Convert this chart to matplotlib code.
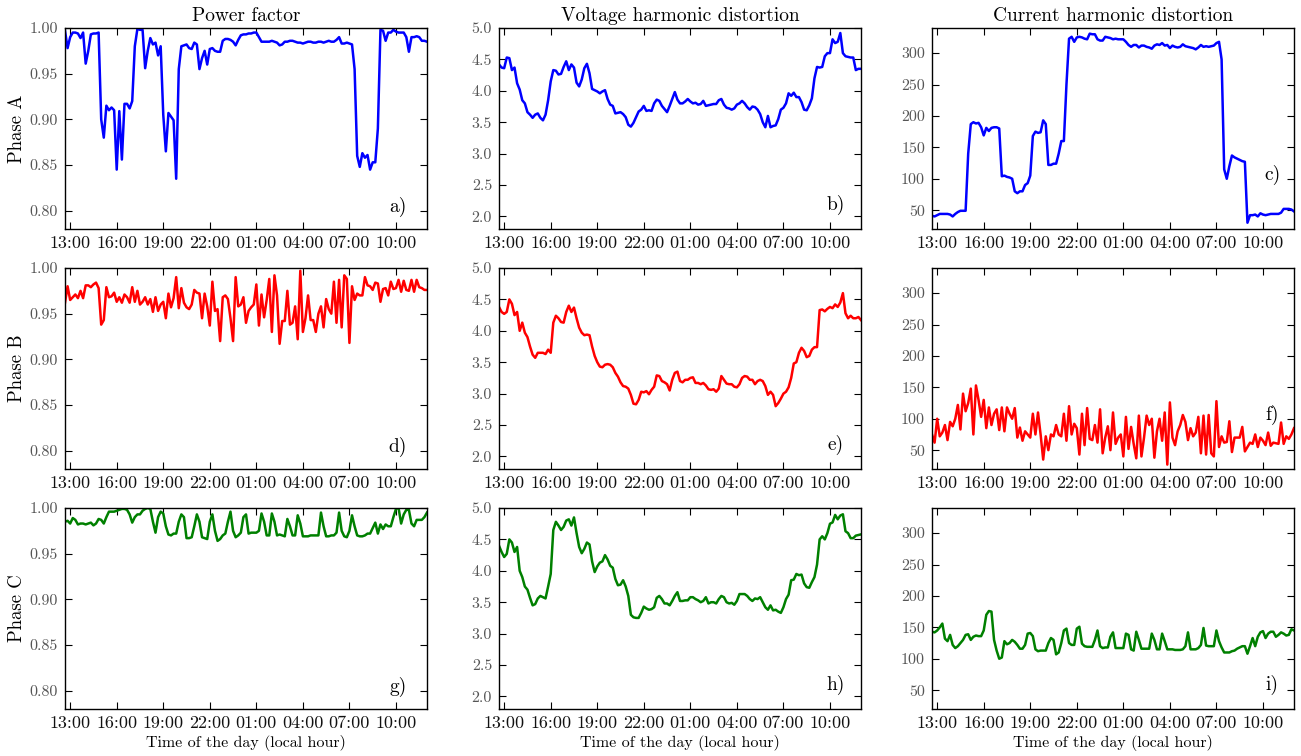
import numpy as np
import matplotlib
matplotlib.use("Agg")
import matplotlib.pyplot as plt
from matplotlib.ticker import FixedLocator, FormatStrFormatter

# ---------------- data (10-minute samples, 12:40 -> 12:00 next day) ----------------
start_hour = 12 + 40 / 60.0
n_samples = 141
step_hours = 1 / 6.0

tick_hours = [13, 16, 19, 22, 25, 28, 31, 34]
tick_labels = ["13:00", "16:00", "19:00", "22:00", "01:00", "04:00", "07:00", "10:00"]

col_titles = ["Power factor", "Voltage harmonic distortion", "Current harmonic distortion"]
row_labels = ["Phase A", "Phase B", "Phase C"]
panel_tags = ["a)", "b)", "c)", "d)", "e)", "f)", "g)", "h)", "i)"]
phase_colors = ["#0000ff", "#ff0000", "#008000"]

pf_a = [0.997, 0.978,
        0.990, 0.995, 0.995, 0.994, 0.989, 0.995,
        0.961, 0.975, 0.993, 0.994, 0.994, 0.995,
        0.900, 0.880, 0.915, 0.910, 0.913, 0.910,
        0.845, 0.909, 0.856, 0.917, 0.917, 0.912,
        0.920, 0.980, 0.999, 0.998, 0.998, 0.956,
        0.975, 0.989, 0.982, 0.984, 0.970, 0.980,
        0.905, 0.865, 0.907, 0.903, 0.899, 0.835,
        0.955, 0.980, 0.981, 0.982, 0.978, 0.977,
        0.984, 0.982, 0.955, 0.967, 0.975, 0.960,
        0.977, 0.978, 0.975, 0.974, 0.974, 0.986,
        0.988, 0.988, 0.987, 0.985, 0.981, 0.987,
        0.992, 0.993, 0.993, 0.994, 0.994, 0.995,
        0.995, 0.990, 0.985, 0.985, 0.985, 0.985,
        0.986, 0.985, 0.984, 0.981, 0.982, 0.985,
        0.985, 0.986, 0.986, 0.985, 0.984, 0.984,
        0.983, 0.984, 0.985, 0.985, 0.984, 0.984,
        0.985, 0.985, 0.984, 0.985, 0.986, 0.985,
        0.985, 0.987, 0.990, 0.983, 0.983, 0.984,
        0.983, 0.982, 0.955, 0.860, 0.848, 0.863,
        0.858, 0.861, 0.845, 0.853, 0.853, 0.890,
        0.998, 0.997, 0.986, 0.995, 0.995, 0.998,
        0.996, 0.995, 0.995, 0.995, 0.990, 0.974,
        0.990, 0.990, 0.991, 0.990, 0.986, 0.986,
        0.985]

thd_v_a = [4.42, 4.37,
           4.36, 4.53, 4.52, 4.33, 4.37, 4.12,
           4.02, 3.85, 3.80, 3.66, 3.62, 3.57,
           3.62, 3.64, 3.57, 3.53, 3.62, 3.85,
           4.15, 4.33, 4.32, 4.26, 4.27, 4.38,
           4.47, 4.33, 4.42, 4.37, 4.13, 4.07,
           4.18, 4.36, 4.43, 4.28, 4.03, 4.01,
           3.99, 3.96, 3.99, 4.01, 3.87, 3.78,
           3.76, 3.64, 3.65, 3.66, 3.63, 3.58,
           3.46, 3.43, 3.49, 3.58, 3.67, 3.70,
           3.76, 3.68, 3.69, 3.68, 3.80, 3.86,
           3.84, 3.76, 3.71, 3.66, 3.76, 3.87,
           3.98, 3.86, 3.80, 3.80, 3.83, 3.87,
           3.83, 3.80, 3.81, 3.78, 3.79, 3.84,
           3.76, 3.77, 3.78, 3.79, 3.79, 3.85,
           3.87, 3.78, 3.73, 3.72, 3.70, 3.72,
           3.78, 3.80, 3.84, 3.80, 3.74, 3.70,
           3.75, 3.74, 3.70, 3.63, 3.50, 3.42,
           3.60, 3.42, 3.44, 3.45, 3.55, 3.70,
           3.73, 3.80, 3.96, 3.92, 3.97, 3.90,
           3.90, 3.82, 3.70, 3.69, 3.77, 3.88,
           4.20, 4.38, 4.37, 4.38, 4.55, 4.60,
           4.60, 4.82, 4.76, 4.78, 4.92, 4.60,
           4.55, 4.54, 4.53, 4.53, 4.33, 4.35,
           4.35]

thd_i_a = [41, 40,
           42, 44, 44, 44, 44, 43,
           40, 44, 47, 49, 49, 49,
           140, 187, 190, 188, 189, 182,
           169, 181, 176, 181, 182, 182,
           180, 104, 105, 103, 102, 100,
           80, 77, 80, 80, 90, 93,
           105, 168, 175, 173, 174, 193,
           187, 122, 122, 124, 124, 140,
           160, 160, 250, 323, 326, 318,
           325, 326, 325, 323, 322, 331,
           330, 330, 322, 320, 320, 326,
           325, 324, 322, 323, 322, 322,
           322, 318, 313, 310, 313, 313,
           309, 312, 312, 310, 309, 307,
           312, 314, 313, 316, 312, 313,
           308, 312, 310, 309, 310, 314,
           311, 310, 309, 308, 306, 309,
           313, 310, 311, 310, 311, 312,
           316, 318, 290, 115, 100, 120,
           137, 134, 132, 130, 128, 127,
           30, 42, 42, 43, 40, 45,
           43, 42, 43, 44, 44, 44,
           44, 46, 52, 52, 52, 51,
           48]

pf_b = [0.962, 0.980, 0.965, 0.968, 0.971, 0.967, 0.975, 0.967, 0.981, 0.981,
        0.979, 0.982, 0.984, 0.978, 0.938, 0.943, 0.979, 0.968, 0.969, 0.973,
        0.963, 0.968, 0.962, 0.971, 0.968, 0.962, 0.979, 0.963, 0.975, 0.960,
        0.963, 0.968, 0.960, 0.966, 0.952, 0.968, 0.953, 0.960, 0.963, 0.945,
        0.972, 0.957, 0.967, 0.990, 0.956, 0.978, 0.962, 0.957, 0.955, 0.960,
        0.976, 0.973, 0.972, 0.945, 0.972, 0.958, 0.937, 0.985, 0.953, 0.955,
        0.920, 0.968, 0.970, 0.966, 0.945, 0.920, 0.990, 0.958, 0.960, 0.968,
        0.940, 0.953, 0.957, 0.960, 0.982, 0.937, 0.971, 0.946, 0.965, 0.988,
        0.930, 0.992, 0.970, 0.917, 0.942, 0.942, 0.975, 0.938, 0.940, 0.958,
        0.922, 0.997, 0.930, 0.945, 0.970, 0.943, 0.943, 0.930, 0.950, 0.958,
        0.935, 0.966, 0.955, 0.950, 0.985, 0.940, 0.987, 0.935, 0.992, 0.988,
        0.918, 0.980, 0.965, 0.972, 0.970, 0.970, 0.990, 0.981, 0.980, 0.976,
        0.984, 0.983, 0.963, 0.977, 0.978, 0.970, 0.985, 0.977, 0.978, 0.987,
        0.974, 0.986, 0.976, 0.975, 0.987, 0.974, 0.987, 0.979, 0.978, 0.976,
        0.976]

thd_v_b = [4.38, 4.30, 4.27, 4.30, 4.50, 4.43, 4.25, 4.30, 4.00, 4.13,
           3.97, 3.90, 3.75, 3.62, 3.57, 3.65, 3.65, 3.65, 3.63, 3.70,
           3.65, 4.13, 4.24, 4.20, 4.14, 4.13, 4.30, 4.40, 4.30, 4.37,
           4.20, 4.05, 3.97, 3.93, 3.94, 3.93, 3.75, 3.60, 3.50, 3.43,
           3.42, 3.46, 3.47, 3.46, 3.42, 3.33, 3.27, 3.18, 3.12, 3.11,
           3.08, 2.98, 2.84, 2.83, 2.90, 3.03, 3.02, 3.04, 2.99, 3.06,
           3.11, 3.29, 3.28, 3.20, 3.18, 3.15, 3.05, 3.22, 3.33, 3.35,
           3.20, 3.18, 3.22, 3.22, 3.25, 3.26, 3.17, 3.17, 3.15, 3.17,
           3.13, 3.07, 3.06, 3.07, 3.03, 3.08, 3.28, 3.22, 3.16, 3.15,
           3.15, 3.11, 3.10, 3.15, 3.25, 3.28, 3.27, 3.22, 3.22, 3.15,
           3.20, 3.22, 3.20, 3.12, 2.98, 3.03, 2.98, 2.80, 2.85, 2.92,
           3.00, 3.03, 3.10, 3.25, 3.48, 3.50, 3.65, 3.73, 3.68, 3.58,
           3.60, 3.70, 3.74, 3.74, 4.33, 4.34, 4.31, 4.35, 4.38, 4.36,
           4.42, 4.38, 4.45, 4.60, 4.28, 4.20, 4.24, 4.20, 4.20, 4.22,
           4.17]

thd_i_b = [75, 62, 100, 72, 78, 90, 66, 95, 88, 100,
           122, 83, 140, 112, 125, 148, 75, 153, 130, 103,
           130, 85, 118, 90, 108, 115, 82, 118, 80, 118,
           108, 100, 117, 70, 86, 65, 80, 75, 70, 108,
           75, 110, 75, 35, 72, 50, 75, 72, 90, 75,
           72, 108, 65, 120, 75, 92, 85, 43, 108, 58,
           117, 68, 66, 90, 62, 115, 45, 70, 88, 50,
           110, 60, 70, 75, 40, 103, 52, 87, 60, 37,
           105, 40, 70, 105, 90, 100, 38, 80, 100, 65,
           110, 27, 126, 70, 58, 80, 90, 106, 95, 66,
           85, 72, 78, 103, 45, 105, 43, 106, 45, 40,
           128, 55, 72, 62, 63, 96, 47, 70, 70, 70,
           87, 48, 55, 62, 60, 75, 55, 70, 65, 58,
           78, 57, 62, 61, 60, 94, 60, 72, 68, 75,
           85]

pf_c = [0.985, 0.986, 0.983, 0.989, 0.987, 0.982, 0.983, 0.983, 0.982, 0.983,
        0.984, 0.981, 0.983, 0.988, 0.987, 0.983, 0.990, 0.996, 0.996, 0.996,
        0.997, 0.998, 0.999, 0.999, 0.998, 0.993, 0.984, 0.990, 0.993, 0.993,
        0.997, 0.999, 1.000, 0.999, 0.985, 0.973, 0.990, 0.996, 0.994, 0.980,
        0.971, 0.970, 0.972, 0.972, 0.985, 0.993, 0.990, 0.967, 0.967, 0.968,
        0.980, 0.993, 0.985, 0.968, 0.967, 0.966, 0.985, 0.993, 0.975, 0.964,
        0.966, 0.970, 0.972, 0.985, 0.996, 0.975, 0.968, 0.970, 0.973, 0.990,
        0.993, 0.972, 0.973, 0.973, 0.973, 0.975, 0.994, 0.985, 0.970, 0.970,
        0.994, 0.985, 0.970, 0.971, 0.970, 0.969, 0.988, 0.980, 0.970, 0.970,
        0.992, 0.983, 0.969, 0.969, 0.969, 0.970, 0.970, 0.970, 0.970, 0.995,
        0.980, 0.969, 0.969, 0.970, 0.970, 0.973, 0.995, 0.975, 0.969, 0.968,
        0.975, 0.992, 0.980, 0.970, 0.969, 0.969, 0.970, 0.972, 0.972, 0.978,
        0.984, 0.972, 0.982, 0.977, 0.982, 0.980, 0.980, 0.990, 0.999, 1.000,
        0.983, 0.993, 0.998, 0.998, 0.983, 0.980, 0.987, 0.987, 0.987, 0.990,
        0.995]

thd_v_c = [4.40, 4.30, 4.22, 4.27, 4.50, 4.45, 4.30, 4.38, 4.00, 3.90,
           3.75, 3.70, 3.57, 3.45, 3.47, 3.56, 3.60, 3.58, 3.56, 3.75,
           3.95, 4.65, 4.78, 4.72, 4.65, 4.70, 4.80, 4.82, 4.72, 4.85,
           4.60, 4.38, 4.28, 4.35, 4.45, 4.42, 4.15, 3.98, 4.07, 4.13,
           4.15, 4.25, 4.18, 4.08, 4.05, 3.87, 3.77, 3.78, 3.85, 3.75,
           3.60, 3.30, 3.26, 3.25, 3.25, 3.33, 3.43, 3.40, 3.38, 3.39,
           3.42, 3.57, 3.60, 3.55, 3.48, 3.48, 3.45, 3.52, 3.60, 3.66,
           3.52, 3.52, 3.53, 3.53, 3.58, 3.58, 3.55, 3.53, 3.50, 3.52,
           3.58, 3.48, 3.50, 3.50, 3.48, 3.55, 3.60, 3.58, 3.50, 3.48,
           3.49, 3.46, 3.52, 3.63, 3.63, 3.63, 3.60, 3.55, 3.52, 3.56,
           3.55, 3.58, 3.50, 3.42, 3.38, 3.45, 3.37, 3.38, 3.35, 3.33,
           3.42, 3.55, 3.62, 3.85, 3.86, 3.95, 3.93, 3.94, 3.80, 3.74,
           3.73, 3.82, 3.90, 4.10, 4.50, 4.55, 4.50, 4.60, 4.75, 4.77,
           4.89, 4.82, 4.88, 4.90, 4.63, 4.60, 4.52, 4.52, 4.56, 4.57,
           4.58]

thd_i_c = [143, 142, 145, 150, 156, 132, 128, 138, 122, 117,
           120, 125, 130, 138, 139, 130, 135, 137, 136, 136,
           145, 170, 176, 175, 130, 113, 100, 102, 128, 123,
           125, 130, 127, 122, 116, 116, 122, 140, 141, 136,
           115, 112, 113, 113, 113, 125, 133, 130, 107, 110,
           125, 145, 148, 125, 122, 122, 148, 151, 124, 120,
           119, 119, 119, 130, 145, 120, 117, 118, 118, 135,
           142, 117, 117, 117, 117, 140, 138, 115, 113, 143,
           130, 116, 116, 116, 116, 140, 130, 115, 115, 140,
           128, 115, 115, 115, 114, 114, 114, 115, 120, 142,
           115, 115, 115, 117, 122, 149, 121, 120, 120, 120,
           145, 128, 118, 110, 110, 110, 112, 113, 116, 118,
           120, 120, 108, 120, 133, 120, 135, 142, 144, 133,
           140, 143, 143, 135, 138, 142, 140, 137, 138, 147,
           145]

series = [[pf_a, thd_v_a, thd_i_a],
          [pf_b, thd_v_b, thd_i_b],
          [pf_c, thd_v_c, thd_i_c]]

# ---------------- style ----------------
plt.rcParams["font.family"] = ["cmr10", "DejaVu Serif"]
plt.rcParams["axes.formatter.use_mathtext"] = True
plt.rcParams["mathtext.fontset"] = "cm"

y_limits = [(0.78, 1.00), (1.8, 5.0), (20, 340)]
y_ticks = [[0.80, 0.85, 0.90, 0.95, 1.00],
           [2.0, 2.5, 3.0, 3.5, 4.0, 4.5, 5.0],
           [50, 100, 150, 200, 250, 300]]
y_fmt = ["%.2f", "%.1f", "%d"]
tag_pos = [[(0.92, 0.11), (0.93, 0.12), (0.94, 0.27)],
           [(0.92, 0.11), (0.93, 0.12), (0.94, 0.27)],
           [(0.92, 0.11), (0.93, 0.12), (0.94, 0.12)]]

W, H = 1301, 756
fig = plt.figure(figsize=(W / 100, H / 100), dpi=100)

col_left = [65, 499, 932]
row_top = [28, 268, 508]
ax_w, ax_h = 362, 201

hours = start_hour + np.arange(n_samples) * step_hours

for r in range(3):
    for c in range(3):
        ax = fig.add_axes([col_left[c] / W, 1 - (row_top[r] + ax_h) / H, ax_w / W, ax_h / H])
        ax.plot(hours, series[r][c], color=phase_colors[r], lw=1.8)
        ax.set_xlim(hours[0], hours[-1])
        ax.set_ylim(*y_limits[c])
        ax.xaxis.set_major_locator(FixedLocator(tick_hours))
        ax.set_xticklabels(tick_labels)
        ax.yaxis.set_major_locator(FixedLocator(y_ticks[c]))
        ax.yaxis.set_major_formatter(FormatStrFormatter(y_fmt[c]))
        ax.tick_params(direction="in", top=True, right=True, length=5, width=0.8,
                       colors="black")
        ax.tick_params(axis="x", labelsize=13, labelcolor="#111111", pad=5)
        ax.tick_params(axis="y", labelsize=11.5, labelcolor="#555555", pad=5)
        for s in ax.spines.values():
            s.set_linewidth(1.0)
        tx, ty = tag_pos[r][c]
        ax.text(tx, ty, panel_tags[r * 3 + c], transform=ax.transAxes,
                ha="center", va="center", fontsize=14)
        if r == 0:
            ax.set_title(col_titles[c], fontsize=14, pad=5)
        if c == 0:
            ax.set_ylabel(row_labels[r], fontsize=13.5)
            ax.yaxis.label.set_va("center")
            ax.yaxis.set_label_coords(-0.133, 0.5)
        if r == 2:
            ax.set_xlabel("Time of the day (local hour)", fontsize=11.5, labelpad=3)

fig.savefig("out.png", dpi=100)
